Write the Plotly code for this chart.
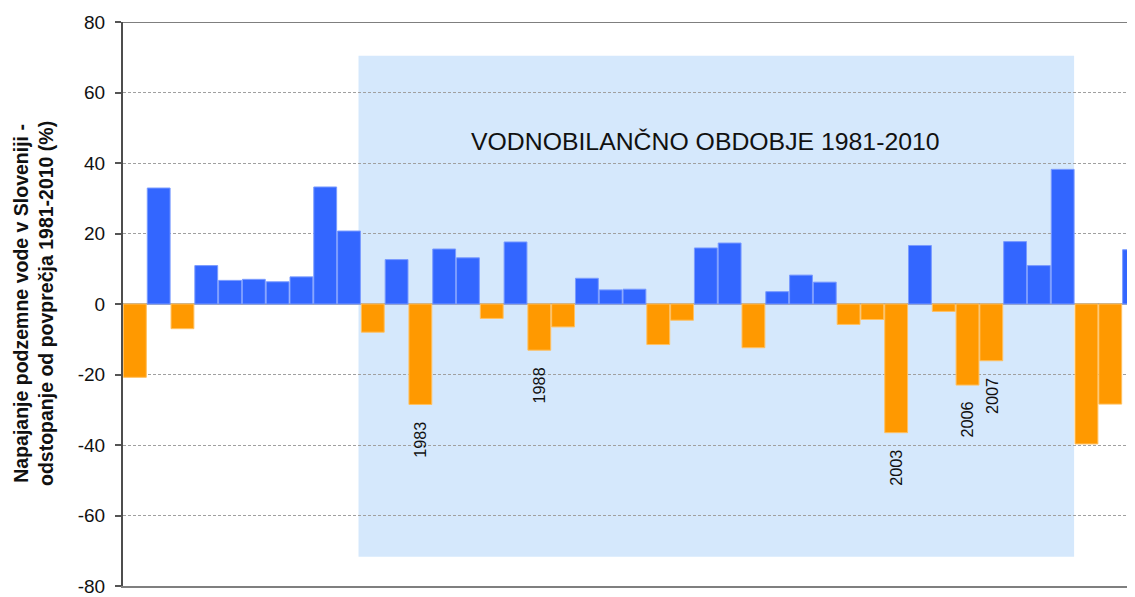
import plotly.graph_objects as go

# ---- data ----
years = list(range(1971, 2014))
deviation = [
    -20.8, 32.9, -7.0, 10.9, 6.7, 7.0, 6.3, 7.7, 33.2, 20.7,     # 1971-1980
    -8.0, 12.6, -28.5, 15.6, 13.1, -4.1, 17.6, -13.1, -6.5, 7.3,  # 1981-1990
    4.0, 4.2, -11.5, -4.6, 15.9, 17.3, -12.4, 3.5, 8.2, 6.2,      # 1991-2000
    -5.8, -4.4, -36.5, 16.6, -2.1, -23.0, -16.1, 17.7, 10.9, 38.2,  # 2001-2010
    -39.7, -28.4, 15.4,                                           # 2011-2013
]
labeled_years = [1983, 1988, 2003, 2006, 2007]
period_text = "VODNOBILANČNO OBDOBJE 1981-2010"
y_title = "Napajanje podzemne vode v Sloveniji -<br>odstopanje od povprečja 1981-2010 (%)"
y_tickvals = [80, 60, 40, 20, 0, -20, -40, -60, -80]
y_ticktext = ["80", "60", "40", "20", "0", "-20", "-40", "-60", "-80"]

BLUE = "#3366FF"
ORANGE = "#FF9900"
FONT = "Liberation Sans, Arial, sans-serif"

colors = [BLUE if v >= 0 else ORANGE for v in deviation]
edge = ["#7A9BFF" if v >= 0 else "#FFC060" for v in deviation]

fig = go.Figure()
fig.add_trace(go.Bar(
    x=years, y=deviation,
    marker=dict(color=colors, line=dict(color=edge, width=1)),
    showlegend=False, hoverinfo="x+y",
))

# shaded reference period
fig.add_shape(type="rect", xref="x", yref="y",
              x0=1980.4, x1=2010.48, y0=-71.7, y1=70.4,
              fillcolor="#D5E8FC", line=dict(width=0), layer="below")

# top border line
fig.add_shape(type="line", xref="paper", yref="y", x0=0, x1=1, y0=80, y1=80,
              line=dict(color="#7F7F7F", width=2))

# period title
fig.add_annotation(x=1995.0, y=46.1, xref="x", yref="y",
                   text=period_text, showarrow=False,
                   font=dict(family=FONT, size=24.8, color="#111111"),
                   xanchor="center", yanchor="middle")

# year labels under selected bars
for yr in labeled_years:
    v = deviation[years.index(yr)]
    fig.add_annotation(x=yr, y=v, xref="x", yref="y", text=str(yr),
                       showarrow=False, textangle=-90,
                       font=dict(family=FONT, size=16.3, color="#111111"),
                       xanchor="center", yanchor="top", yshift=-15)

# y axis title (two lines, bold, rotated)
fig.add_annotation(x=-(123 - 33) / 1012, y=0.5, xref="paper", yref="paper",
                   text="<b>" + y_title + "</b>", showarrow=False,
                   textangle=-90, align="center",
                   font=dict(family=FONT, size=19.5, color="#111111"),
                   xanchor="center", yanchor="middle")

# page body has an 8px margin: figure spans window x 8..1135, y 8..597
fig.update_layout(
    width=1127, height=589,
    margin=dict(l=115, r=0, t=14, b=9),
    paper_bgcolor="white", plot_bgcolor="white",
    bargap=0.04,
    font=dict(family=FONT, size=19, color="#111111"),
    xaxis=dict(range=[1970.5, 2013.04], showticklabels=False, ticks="",
               showgrid=False, zeroline=False,
               showline=True, mirror=False, linecolor="#7F7F7F", linewidth=2),
    yaxis=dict(range=[-80, 80], tickvals=y_tickvals, ticktext=y_ticktext,
               ticks="outside", ticklen=6, tickcolor="#555555", tickwidth=1.5,
               ticklabelstandoff=6, ticklabeloverflow="allow",
               showline=True, linecolor="#4D4D4D", linewidth=2,
               showgrid=True, gridcolor="#A0A0A0", gridwidth=1, griddash="3px,2px",
               zeroline=True, zerolinecolor="#A8A8A8", zerolinewidth=1.5,
               tickfont=dict(family=FONT, size=19, color="#111111")),
)

fig.write_html("out.html")
